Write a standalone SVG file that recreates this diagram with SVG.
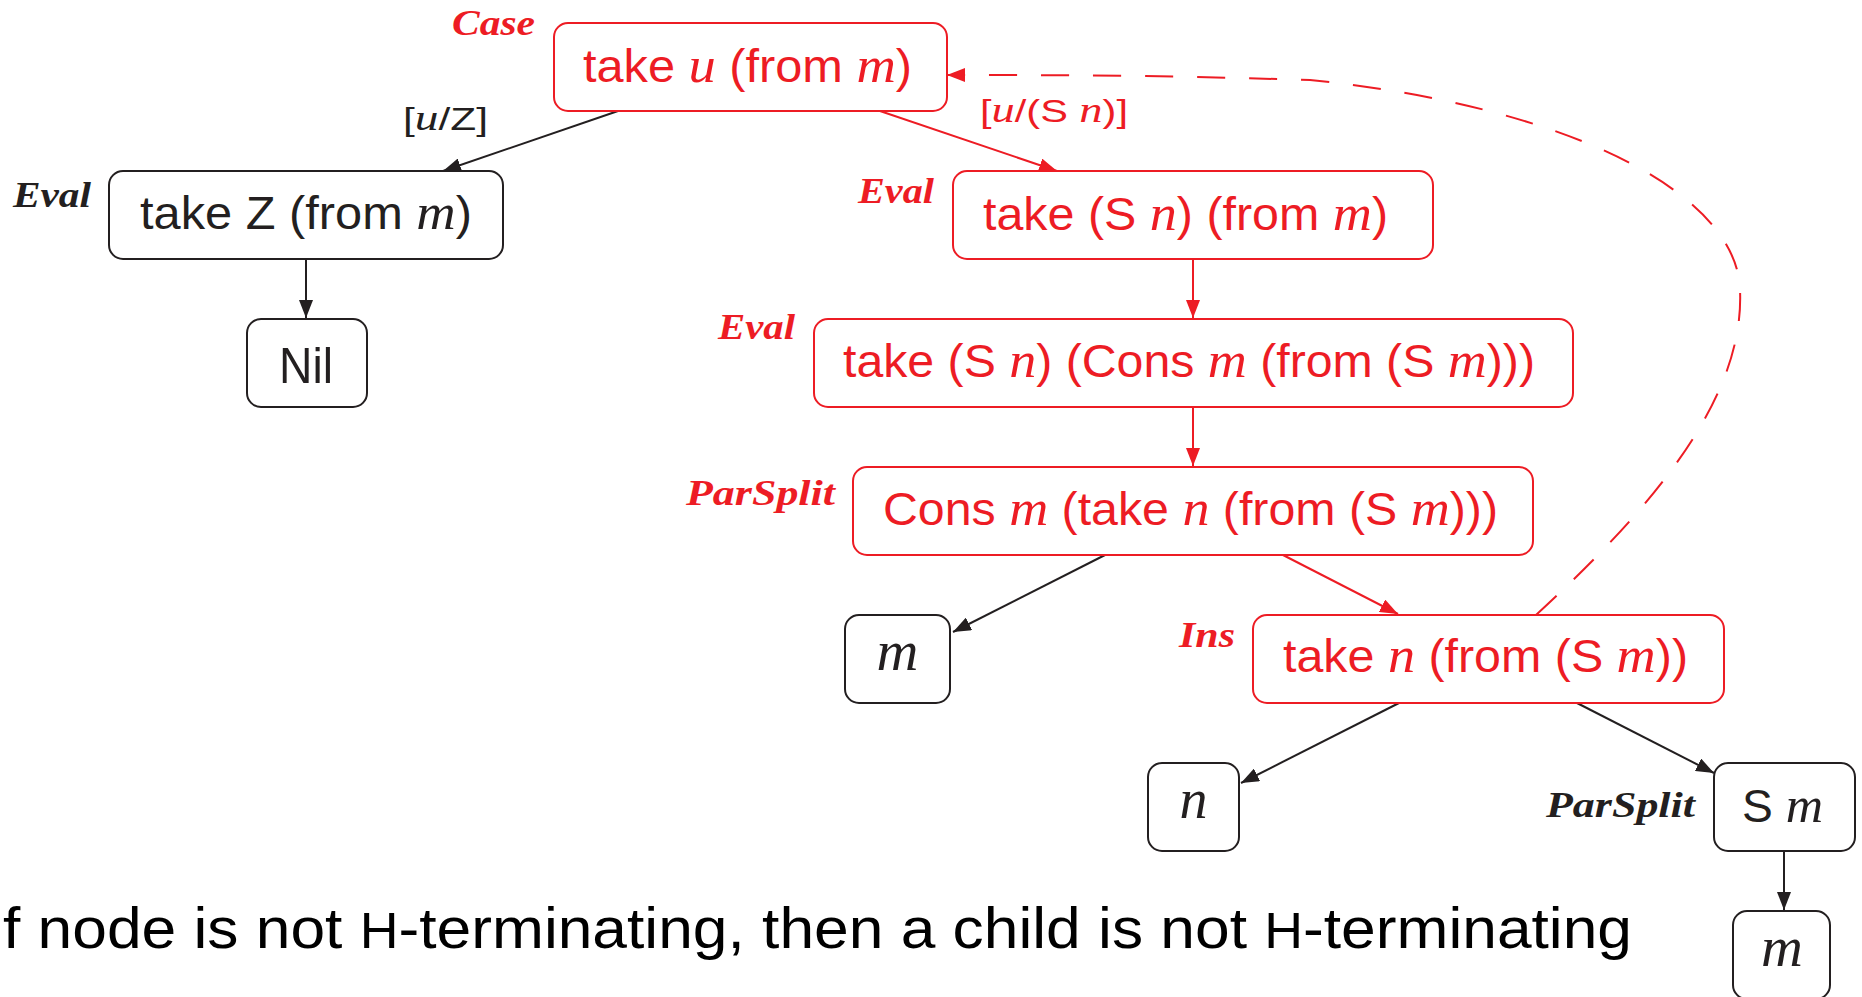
<svg xmlns="http://www.w3.org/2000/svg" width="1862" height="997" viewBox="0 0 1862 997">
  <defs>
    <style>
      .box { fill: #ffffff; stroke-width: 2; }
      .red { stroke: #ED1C24; }
      .blk { stroke: #231F20; }
      .t { font-family: "Liberation Sans", Arial, sans-serif; font-size: 46px; }
      .tr { fill: #ED1C24; }
      .tb { fill: #231F20; }
      .v { font-family: "Liberation Serif", "Times New Roman", serif; font-style: italic; }
      .t .v, .sub .v { font-size: 1.12em; }
      .rule { font-family: "Liberation Serif", "Times New Roman", serif; font-style: italic; font-weight: bold; font-size: 36px; }
      .sub { font-family: "Liberation Sans", Arial, sans-serif; font-size: 32px; }
      .edge { fill: none; stroke-width: 2; }
      .e-red { stroke: #ED1C24; marker-end: url(#ah-red); }
      .e-blk { stroke: #231F20; marker-end: url(#ah-blk); }
      .dash { stroke-dasharray: 28 24; }
      .caption { font-family: "Liberation Sans", Arial, sans-serif; font-size: 58px; fill: #000000; }
    </style>
    <marker id="ah-blk" markerUnits="userSpaceOnUse" markerWidth="18" markerHeight="14" refX="18" refY="7" orient="auto">
      <path d="M0,0 L18,7 L0,14 z" fill="#231F20"/>
    </marker>
    <marker id="ah-red" markerUnits="userSpaceOnUse" markerWidth="18" markerHeight="14" refX="18" refY="7" orient="auto">
      <path d="M0,0 L18,7 L0,14 z" fill="#ED1C24"/>
    </marker>
  </defs>

  <rect width="1862" height="997" fill="#ffffff"/>

  <!-- connectors -->
  <g id="connectors">
    <path class="edge e-blk" d="M618,111 L443,171"/>
    <path class="edge e-red" d="M880,111 L1057,171"/>
    <path class="edge e-blk" d="M306,259 L306,318"/>
    <path class="edge e-red" d="M1193,259 L1193,318"/>
    <path class="edge e-red" d="M1193,407 L1193,466"/>
    <path class="edge e-blk" d="M1105,555 L953,632"/>
    <path class="edge e-red" d="M1283,555 L1398,614"/>
    <path class="edge e-blk" d="M1399,703 L1241,783"/>
    <path class="edge e-blk" d="M1577,703 L1714,773"/>
    <path class="edge e-blk" d="M1784,851 L1784,910"/>
    <path class="edge e-red dash" d="M1536,615 C1650,510 1745,400 1740,290 C1737,190 1560,105 1310,80 C1150,75 1050,75 947,75"/>
    <text class="sub tb" x="403" y="130" textLength="85" lengthAdjust="spacingAndGlyphs">[<tspan class="v">u</tspan>/Z]</text>
    <text class="sub tr" x="980" y="122" textLength="148" lengthAdjust="spacingAndGlyphs">[<tspan class="v">u</tspan>/(S <tspan class="v">n</tspan>)]</text>
  </g>

  <!-- root: case split -->
  <g id="node-case">
    <rect class="box red" x="554" y="23" width="393" height="88" rx="14"/>
    <text class="t tr" x="583" y="82" textLength="329" lengthAdjust="spacingAndGlyphs">take <tspan class="v">u</tspan> (from <tspan class="v">m</tspan>)</text>
    <text class="rule tr" x="452" y="35" textLength="83" lengthAdjust="spacingAndGlyphs">Case</text>
  </g>

  <g id="node-take-zero">
    <rect class="box blk" x="109" y="171" width="394" height="88" rx="14"/>
    <text class="t tb" x="140" y="229" textLength="332" lengthAdjust="spacingAndGlyphs">take Z (from <tspan class="v">m</tspan>)</text>
    <text class="rule tb" x="13" y="207" textLength="78" lengthAdjust="spacingAndGlyphs">Eval</text>
  </g>

  <g id="node-nil">
    <rect class="box blk" x="247" y="319" width="120" height="88" rx="14"/>
    <text class="tb" x="279" y="383" style="font-family: 'Liberation Sans', Arial, sans-serif; font-size: 50px;" textLength="54" lengthAdjust="spacingAndGlyphs">Nil</text>
  </g>

  <g id="node-take-succ">
    <rect class="box red" x="953" y="171" width="480" height="88" rx="14"/>
    <text class="t tr" x="983" y="230" textLength="405" lengthAdjust="spacingAndGlyphs">take (S <tspan class="v">n</tspan>) (from <tspan class="v">m</tspan>)</text>
    <text class="rule tr" x="858" y="203" textLength="76" lengthAdjust="spacingAndGlyphs">Eval</text>
  </g>

  <g id="node-take-cons">
    <rect class="box red" x="814" y="319" width="759" height="88" rx="14"/>
    <text class="t tr" x="843" y="377" textLength="692" lengthAdjust="spacingAndGlyphs">take (S <tspan class="v">n</tspan>) (Cons <tspan class="v">m</tspan> (from (S <tspan class="v">m</tspan>)))</text>
    <text class="rule tr" x="718" y="339" textLength="77" lengthAdjust="spacingAndGlyphs">Eval</text>
  </g>

  <g id="node-cons">
    <rect class="box red" x="853" y="467" width="680" height="88" rx="14"/>
    <text class="t tr" x="883" y="525" textLength="615" lengthAdjust="spacingAndGlyphs">Cons <tspan class="v">m</tspan> (take <tspan class="v">n</tspan> (from (S <tspan class="v">m</tspan>)))</text>
    <text class="rule tr" x="686" y="505" textLength="149" lengthAdjust="spacingAndGlyphs">ParSplit</text>
  </g>

  <g id="node-m-head">
    <rect class="box blk" x="845" y="615" width="105" height="88" rx="14"/>
    <text class="v tb" x="897.5" y="670" text-anchor="middle" style="font-size: 58px;">m</text>
  </g>

  <g id="node-take-n">
    <rect class="box red" x="1253" y="615" width="471" height="88" rx="14"/>
    <text class="t tr" x="1283" y="672" textLength="405" lengthAdjust="spacingAndGlyphs">take <tspan class="v">n</tspan> (from (S <tspan class="v">m</tspan>))</text>
    <text class="rule tr" x="1179" y="647" textLength="56" lengthAdjust="spacingAndGlyphs">Ins</text>
  </g>

  <g id="node-n">
    <rect class="box blk" x="1148" y="763" width="91" height="88" rx="14"/>
    <text class="v tb" x="1193.5" y="818" text-anchor="middle" style="font-size: 56px;">n</text>
  </g>

  <g id="node-succ-m">
    <rect class="box blk" x="1714" y="763" width="141" height="88" rx="14"/>
    <text class="t tb" x="1742" y="822" textLength="81" lengthAdjust="spacingAndGlyphs">S <tspan class="v">m</tspan></text>
    <text class="rule tb" x="1546" y="817" textLength="149" lengthAdjust="spacingAndGlyphs">ParSplit</text>
  </g>

  <g id="node-m-tail">
    <rect class="box blk" x="1733" y="911" width="97" height="88" rx="14"/>
    <text class="v tb" x="1782" y="966" text-anchor="middle" style="font-size: 58px;">m</text>
  </g>

  <!-- caption line -->
  <text class="caption" x="3" y="948" textLength="1629" lengthAdjust="spacingAndGlyphs">f node is not <tspan style="font-size: 50px;">H</tspan>-terminating, then a child is not <tspan style="font-size: 50px;">H</tspan>-terminating</text>
</svg>
